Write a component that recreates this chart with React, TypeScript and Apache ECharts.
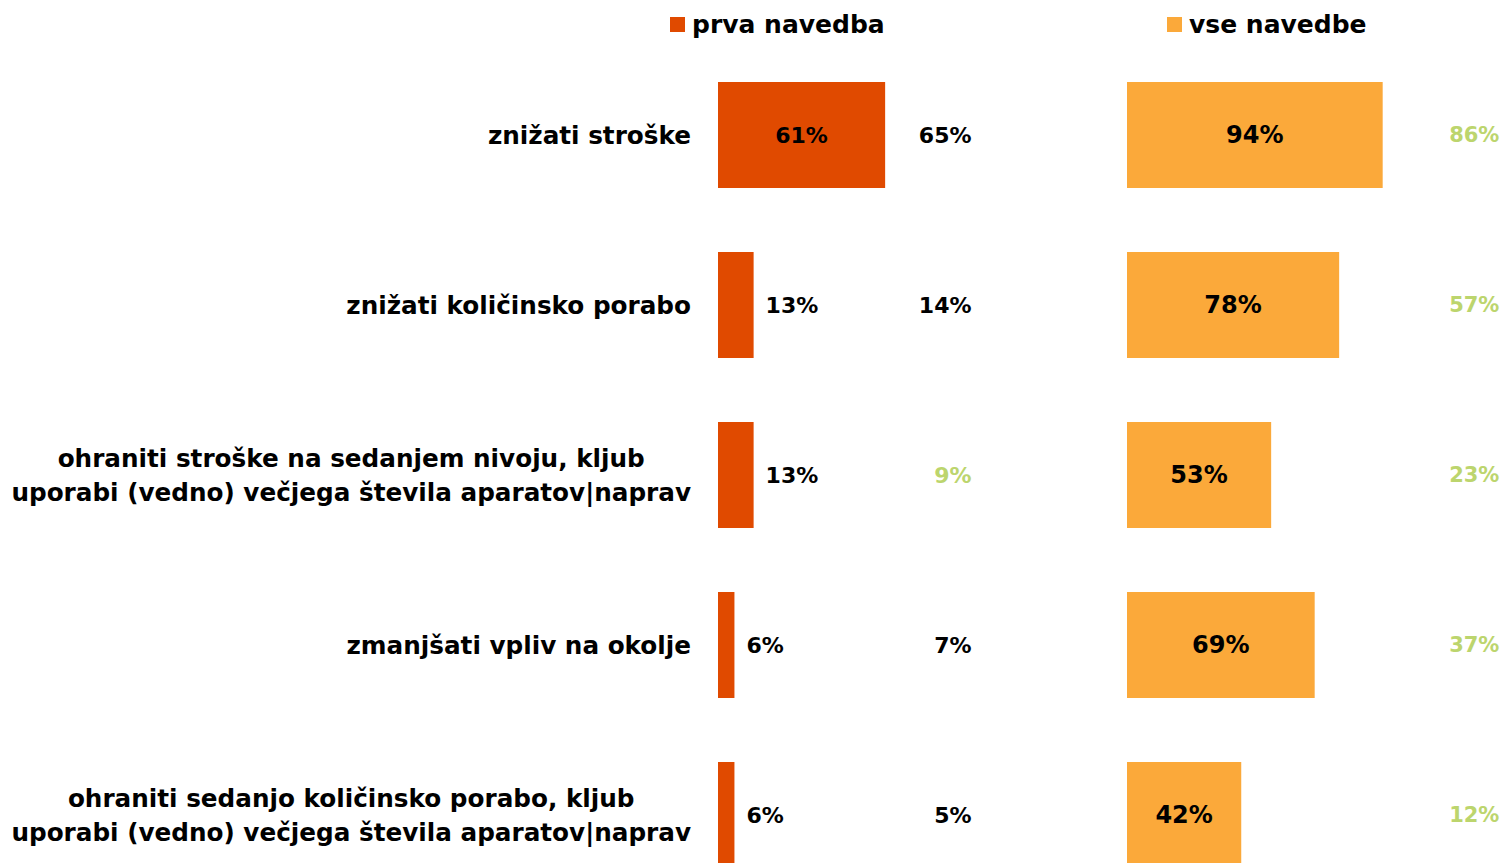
import React, { useEffect, useRef } from "react";
import * as echarts from "echarts";

const categories = [
  "znižati stroške",
  "znižati količinsko porabo",
  "ohraniti stroške na sedanjem nivoju, kljub\nuporabi (vedno) večjega števila aparatov|naprav",
  "zmanjšati vpliv na okolje",
  "ohraniti sedanjo količinsko porabo, kljub\nuporabi (vedno) večjega števila aparatov|naprav",
];
const prvaNavedba = [61, 13, 13, 6, 6];
const vseNavedbe = [94, 78, 53, 69, 42];
const prvaPrej = [65, 14, 9, 7, 5];
const prvaPrejZnacilno = [false, false, true, false, false];
const vsePrej = [86, 57, 23, 37, 12];
const vsePrejZnacilno = [true, true, true, true, true];
const legendNames = ["prva navedba", "vse navedbe"];

const FONT = "DejaVu Sans";
const DARK = "#E04A00";
const LIGHT = "#FBA93A";
const GREEN = "#BCD56D";

function measure(text: string, size: number): number {
  const c = document.createElement("canvas").getContext("2d");
  if (!c) return text.length * size * 0.6;
  c.font = `bold ${size}px "${FONT}"`;
  return c.measureText(text).width;
}

export default function App() {
  const ref = useRef<HTMLDivElement>(null);
  useEffect(() => {
    document.body.style.margin = "0";
    document.documentElement.style.overflow = "hidden";
    document.body.style.overflow = "hidden";
    if (!ref.current) return;
    const chart = echarts.init(ref.current, undefined, { renderer: "svg" });
    const catSize = 24.7;
    let maxW = 0;
    categories.forEach((c) =>
      c.split("\n").forEach((l) => {
        maxW = Math.max(maxW, measure(l, catSize));
      })
    );
    const legendText = {
      fontFamily: FONT,
      fontWeight: "bold",
      fontSize: 25,
      color: "#000",
      padding: [0, 0, 0, 2],
    };
    const option: any = {
      animation: false,
      legend: [
        {
          data: [{ name: legendNames[0], icon: "rect" }],
          left: 665,
          top: 7,
          itemWidth: 15,
          itemHeight: 15,
          textStyle: legendText,
          selectedMode: false,
        },
        {
          data: [{ name: legendNames[1], icon: "rect" }],
          left: 1162,
          top: 7,
          itemWidth: 15,
          itemHeight: 15,
          textStyle: legendText,
          selectedMode: false,
        },
      ],
      grid: [
        { left: 718, top: 50, width: 274, height: 850 },
        { left: 1127, top: 50, width: 272, height: 850 },
      ],
      xAxis: [
        { gridIndex: 0, type: "value", min: 0, max: 100, show: false },
        { gridIndex: 1, type: "value", min: 0, max: 100, show: false },
      ],
      yAxis: [
        {
          gridIndex: 0,
          type: "category",
          inverse: true,
          data: categories,
          axisLine: { show: false },
          axisTick: { show: false },
          axisLabel: {
            margin: 27,
            fontFamily: FONT,
            fontWeight: "bold",
            fontSize: catSize,
            color: "#000",
            formatter: (v: string) =>
              v.indexOf("\n") < 0
                ? v
                : v
                    .split("\n")
                    .map((l) => `{c|${l}}`)
                    .join("\n"),
            rich: {
              c: {
                width: maxW,
                align: "center",
                fontFamily: FONT,
                fontWeight: "bold",
                fontSize: catSize,
                lineHeight: 34,
                color: "#000",
              },
            },
          },
        },
        {
          gridIndex: 1,
          type: "category",
          inverse: true,
          data: categories,
          axisLine: { show: false },
          axisTick: { show: false },
          axisLabel: { show: false },
        },
      ],
      series: [
        {
          name: legendNames[0],
          type: "bar",
          xAxisIndex: 0,
          yAxisIndex: 0,
          barWidth: 106,
          itemStyle: { color: DARK },
          data: prvaNavedba.map((v) => ({
            value: v,
            label: { position: v > 30 ? "inside" : "right", distance: 12 },
          })),
          label: {
            show: true,
            formatter: "{c}%",
            fontFamily: FONT,
            fontWeight: "bold",
            fontSize: 22,
            color: "#000",
          },
        },
        {
          name: legendNames[1],
          type: "bar",
          xAxisIndex: 1,
          yAxisIndex: 1,
          barWidth: 106,
          itemStyle: { color: LIGHT },
          data: vseNavedbe,
          label: {
            show: true,
            position: "inside",
            formatter: "{c}%",
            fontFamily: FONT,
            fontWeight: "bold",
            fontSize: 24,
            color: "#000",
          },
        },
        {
          name: "prej1",
          type: "scatter",
          xAxisIndex: 0,
          yAxisIndex: 0,
          clip: false,
          symbolSize: 1,
          itemStyle: { color: "rgba(0,0,0,0)", opacity: 1 },
          data: prvaPrej.map((v, i) => ({
            value: [92.7, i, v],
            label: { color: prvaPrejZnacilno[i] ? GREEN : "#000" },
          })),
          label: {
            show: true,
            position: "left",
            distance: 0,
            formatter: (p: any) => `${p.value[2]}%`,
            fontFamily: FONT,
            fontWeight: "bold",
            fontSize: 22,
          },
        },
        {
          name: "prej2",
          type: "scatter",
          xAxisIndex: 1,
          yAxisIndex: 1,
          clip: false,
          symbolSize: 1,
          itemStyle: { color: "rgba(0,0,0,0)", opacity: 1 },
          data: vsePrej.map((v, i) => ({
            value: [137.1, i, v],
            label: { color: vsePrejZnacilno[i] ? GREEN : "#000" },
          })),
          label: {
            show: true,
            position: "left",
            distance: 0,
            formatter: (p: any) => `${p.value[2]}%`,
            fontFamily: FONT,
            fontWeight: "bold",
            fontSize: 21,
          },
        },
      ],
    };
    chart.setOption(option);
    return () => chart.dispose();
  }, []);
  return <div ref={ref} style={{ width: 1505, height: 910 }} />;
}
